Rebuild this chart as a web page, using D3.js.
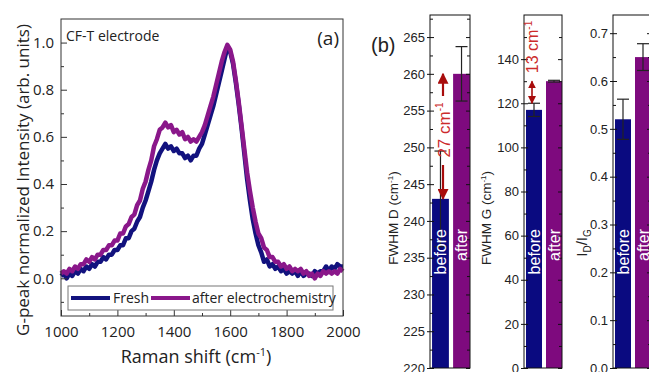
<!DOCTYPE html>
<html>
<head>
  <meta charset="utf-8">
  <title>CF-T electrode Raman</title>
  <script src="https://d3js.org/d3.v7.min.js"></script>
  <style>
    body { margin: 0; background: #fff; }
  </style>
</head>
<body>
  <div id="chart"></div>
  <script>
    // Raman shift grid (cm-1), read every 10 cm-1
    var shift = [1000, 1010, 1020, 1030, 1040, 1050, 1060, 1070, 1080, 1090,
      1100, 1110, 1120, 1130, 1140, 1150, 1160, 1170, 1180, 1190,
      1200, 1210, 1220, 1230, 1240, 1250, 1260, 1270, 1280, 1290,
      1300, 1310, 1320, 1330, 1340, 1350, 1360, 1370, 1380, 1390,
      1400, 1410, 1420, 1430, 1440, 1450, 1460, 1470, 1480, 1490,
      1500, 1510, 1520, 1530, 1540, 1550, 1560, 1570, 1580, 1590,
      1600, 1610, 1620, 1630, 1640, 1650, 1660, 1670, 1680, 1690,
      1700, 1710, 1720, 1730, 1740, 1750, 1760, 1770, 1780, 1790,
      1800, 1810, 1820, 1830, 1840, 1850, 1860, 1870, 1880, 1890,
      1900, 1910, 1920, 1930, 1940, 1950, 1960, 1970, 1980, 1990, 2000];

    // G-peak normalized intensity
    var fresh = [0.01, 0.02, 0.00, 0.02, 0.01, 0.03, 0.02, 0.04, 0.03, 0.05,
      0.04, 0.06, 0.05, 0.07, 0.07, 0.09, 0.08, 0.10, 0.10, 0.12,
      0.12, 0.14, 0.14, 0.17, 0.17, 0.20, 0.21, 0.24, 0.26, 0.30,
      0.33, 0.37, 0.41, 0.46, 0.50, 0.53, 0.55, 0.57, 0.55, 0.56,
      0.54, 0.55, 0.53, 0.53, 0.51, 0.52, 0.50, 0.52, 0.52, 0.55,
      0.57, 0.61, 0.65, 0.69, 0.73, 0.78, 0.83, 0.88, 0.93, 0.98,
      0.96, 0.91, 0.83, 0.74, 0.64, 0.53, 0.42, 0.33, 0.25, 0.19,
      0.14, 0.11, 0.07, 0.08, 0.05, 0.06, 0.04, 0.05, 0.03, 0.04,
      0.02, 0.03, 0.02, 0.03, 0.01, 0.03, 0.01, 0.02, 0.02, 0.01,
      0.03, 0.02, 0.03, 0.03, 0.05, 0.03, 0.05, 0.04, 0.06, 0.05, 0.05];

    var afterEC = [0.02, 0.03, 0.02, 0.04, 0.03, 0.05, 0.04, 0.06, 0.06, 0.08,
      0.07, 0.09, 0.08, 0.10, 0.10, 0.12, 0.12, 0.14, 0.14, 0.16,
      0.16, 0.19, 0.19, 0.22, 0.23, 0.26, 0.27, 0.31, 0.33, 0.38,
      0.41, 0.46, 0.50, 0.56, 0.59, 0.63, 0.64, 0.66, 0.64, 0.65,
      0.62, 0.63, 0.61, 0.62, 0.59, 0.60, 0.58, 0.59, 0.58, 0.60,
      0.62, 0.65, 0.69, 0.73, 0.77, 0.82, 0.87, 0.92, 0.96, 0.99,
      0.97, 0.92, 0.84, 0.75, 0.65, 0.55, 0.45, 0.37, 0.30, 0.24,
      0.19, 0.17, 0.13, 0.12, 0.09, 0.09, 0.07, 0.07, 0.05, 0.06,
      0.04, 0.05, 0.03, 0.04, 0.03, 0.04, 0.02, 0.03, 0.01, 0.02,
      0.00, 0.02, 0.01, 0.03, 0.02, 0.03, 0.02, 0.03, 0.02, 0.04, 0.03];

    var spectrumXTicks = [1000, 1200, 1400, 1600, 1800, 2000];
    var spectrumYTicks = [0.0, 0.2, 0.4, 0.6, 0.8, 1.0];

    // bar panels
    var groups = ["before", "after"];
    var fwhmD = [243, 260];
    var fwhmDErr = [6.5, 3.7];
    var fwhmDTicks = [220, 225, 230, 235, 240, 245, 250, 255, 260, 265];
    var fwhmG = [117, 130];
    var fwhmGErr = [3, 0.4];
    var fwhmGTicks = [0, 20, 40, 60, 80, 100, 120, 140];
    var ratioDG = [0.52, 0.65];
    var ratioDGErr = [0.042, 0.028];
    var ratioDGTicks = [0.0, 0.1, 0.2, 0.3, 0.4, 0.5, 0.6, 0.7];

    var navy = "#0a0a80", purple = "#7e0a7e";
    var lineNavy = "#12127e", linePurple = "#8a178a";
    var sansA = "'Open Sans', 'Noto Sans', sans-serif";
    var sansB = "'Liberation Sans', Arial, sans-serif";

    var svg = d3.select("#chart")
      .append("svg")
      .attr("width", 649)
      .attr("height", 372)
      .style("display", "block");

    // ---------- panel (a) ----------
    var x = d3.scaleLinear().domain([1000, 2000]).range([61, 343]);
    var y = d3.scaleLinear().domain([-0.16, 1.1]).range([316, 19]);

    var pa = svg.append("g").attr("font-family", sansA).attr("fill", "#222");

    var line = d3.line()
      .x((d, i) => x(shift[i]))
      .y(d => y(d));

    pa.append("path")
      .datum(fresh)
      .attr("fill", "none")
      .attr("stroke", lineNavy)
      .attr("stroke-width", 4.5)
      .attr("stroke-linejoin", "round")
      .attr("d", line);

    pa.append("path")
      .datum(afterEC)
      .attr("fill", "none")
      .attr("stroke", linePurple)
      .attr("stroke-width", 4.5)
      .attr("stroke-linejoin", "round")
      .attr("d", line);

    // axes, ticks pointing inward
    pa.append("g")
      .attr("transform", "translate(0,316)")
      .call(d3.axisBottom(x).tickValues(spectrumXTicks).tickSize(-6).tickPadding(10).tickFormat(d3.format("d")));
    pa.append("g")
      .attr("transform", "translate(0,316)")
      .call(d3.axisBottom(x).tickValues([1100, 1300, 1500, 1700, 1900]).tickSize(-3).tickFormat(""));
    pa.append("g")
      .attr("transform", "translate(61,0)")
      .call(d3.axisLeft(y).tickValues(spectrumYTicks).tickSize(-6).tickPadding(7).tickFormat(d3.format(".1f")));
    pa.append("g")
      .attr("transform", "translate(61,0)")
      .call(d3.axisLeft(y).tickValues([-0.1, 0.1, 0.3, 0.5, 0.7, 0.9]).tickSize(-3).tickFormat(""));

    pa.selectAll(".domain").remove();
    pa.selectAll(".tick line").attr("stroke", "#333");
    pa.selectAll(".tick text")
      .attr("font-family", sansA)
      .attr("font-size", 15)
      .attr("fill", "#222");

    pa.append("rect")
      .attr("x", 61).attr("y", 19)
      .attr("width", 282).attr("height", 297)
      .attr("fill", "none")
      .attr("stroke", "#333");

    pa.append("text")
      .attr("x", 66).attr("y", 41)
      .attr("font-size", 14)
      .text("CF-T electrode");
    pa.append("text")
      .attr("x", 339).attr("y", 45)
      .attr("text-anchor", "end")
      .attr("font-size", 19)
      .text("(a)");

    var xt = pa.append("text")
      .attr("x", 196).attr("y", 363)
      .attr("text-anchor", "middle")
      .attr("font-size", 18);
    xt.append("tspan").text("Raman shift (cm");
    xt.append("tspan").attr("dy", -7).attr("font-size", 11).text("-1");
    xt.append("tspan").attr("dy", 7).text(")");

    pa.append("text")
      .attr("transform", "translate(29,180) rotate(-90)")
      .attr("text-anchor", "middle")
      .attr("font-size", 17)
      .text("G-peak normalized Intensity (arb. units)");

    // legend
    var lg = pa.append("g");
    lg.append("rect")
      .attr("x", 68).attr("y", 286)
      .attr("width", 265).attr("height", 24)
      .attr("fill", "#fff")
      .attr("stroke", "#777");
    lg.append("line")
      .attr("x1", 71).attr("x2", 110).attr("y1", 298).attr("y2", 298)
      .attr("stroke", lineNavy).attr("stroke-width", 4);
    lg.append("text").attr("x", 113).attr("y", 303).attr("font-size", 14).text("Fresh");
    lg.append("line")
      .attr("x1", 151).attr("x2", 190).attr("y1", 298).attr("y2", 298)
      .attr("stroke", linePurple).attr("stroke-width", 4);
    lg.append("text").attr("x", 192).attr("y", 303).attr("font-size", 14).text("after electrochemistry");

    // ---------- panel (b) ----------
    var yTop = 15, yBottom = 368;

    function barPanel(x0, x1, domain, values, errs, ticks, minorStep, fmt) {
      var g = svg.append("g").attr("font-family", sansB);
      var xb = d3.scaleBand().domain(groups).range([x0 + 1, x1 + 1]).paddingInner(0.2).paddingOuter(0.05);
      var yb = d3.scaleLinear().domain(domain).range([yBottom, yTop]);

      g.selectAll("rect.bar")
        .data(groups)
        .enter().append("rect")
        .attr("class", "bar")
        .attr("x", d => xb(d))
        .attr("width", xb.bandwidth())
        .attr("y", (d, i) => yb(values[i]))
        .attr("height", (d, i) => yBottom - yb(values[i]))
        .attr("fill", (d, i) => i == 0 ? navy : purple);

      // error bars
      groups.forEach(function(d, i) {
        var cx = xb(d) + xb.bandwidth() / 2;
        var eg = g.append("g").attr("stroke", "#222").attr("stroke-width", 1.2);
        eg.append("line").attr("x1", cx).attr("x2", cx)
          .attr("y1", yb(values[i] - errs[i])).attr("y2", yb(values[i] + errs[i]));
        eg.append("line").attr("x1", cx - 6).attr("x2", cx + 6)
          .attr("y1", yb(values[i] - errs[i])).attr("y2", yb(values[i] - errs[i]));
        eg.append("line").attr("x1", cx - 6).attr("x2", cx + 6)
          .attr("y1", yb(values[i] + errs[i])).attr("y2", yb(values[i] + errs[i]));
      });

      // before / after labels inside bars
      g.selectAll("text.lab")
        .data(groups)
        .enter().append("text")
        .attr("class", "lab")
        .attr("transform", d => "translate(" + (xb(d) + xb.bandwidth() / 2 + 5.5) + ",229) rotate(-90)")
        .attr("text-anchor", "end")
        .attr("font-size", 16)
        .attr("fill", "#fff")
        .text(d => d);

      var minor = d3.range(domain[0], domain[1], minorStep).filter(v => ticks.indexOf(+v.toFixed(3)) < 0);

      g.append("g").attr("transform", "translate(" + x0 + ",0)")
        .call(d3.axisLeft(yb).tickValues(ticks).tickSize(3).tickPadding(2).tickFormat(fmt));
      g.append("g").attr("transform", "translate(" + x0 + ",0)")
        .call(d3.axisLeft(yb).tickValues(ticks).tickSize(-4).tickFormat(""));
      g.append("g").attr("transform", "translate(" + x0 + ",0)")
        .call(d3.axisLeft(yb).tickValues(minor).tickSize(-3).tickFormat(""));
      g.append("g").attr("transform", "translate(" + x1 + ",0)")
        .call(d3.axisRight(yb).tickValues(ticks).tickSize(-4).tickFormat(""));
      g.append("g").attr("transform", "translate(" + x1 + ",0)")
        .call(d3.axisRight(yb).tickValues(minor).tickSize(-3).tickFormat(""));

      g.selectAll(".domain").remove();
      g.selectAll(".tick line").attr("stroke", "#111");
      g.selectAll(".tick text")
        .attr("font-family", sansB)
        .attr("font-size", 13)
        .attr("fill", "#222");

      g.append("rect")
        .attr("x", x0).attr("y", yTop)
        .attr("width", x1 - x0).attr("height", yBottom - yTop)
        .attr("fill", "none")
        .attr("stroke", "#111");

      return {g: g, x: xb, y: yb};
    }

    var pD = barPanel(430, 470, [220, 268], fwhmD, fwhmDErr, fwhmDTicks, 2.5, d3.format("d"));
    var pG = barPanel(524, 562, [0, 160], fwhmG, fwhmGErr, fwhmGTicks, 10, d3.format("d"));
    var pR = barPanel(613, 651, [0, 0.738], ratioDG, ratioDGErr, ratioDGTicks, 0.05, d3.format(".1f"));

    svg.append("text")
      .attr("x", 371).attr("y", 52)
      .attr("font-family", sansB)
      .attr("font-size", 20)
      .attr("fill", "#222")
      .text("(b)");

    function axisTitle(xp, yp, main) {
      var t = svg.append("text")
        .attr("transform", "translate(" + xp + "," + yp + ") rotate(-90)")
        .attr("text-anchor", "middle")
        .attr("font-family", sansB)
        .attr("font-size", 13.5)
        .attr("fill", "#222");
      t.append("tspan").text(main + " (cm");
      t.append("tspan").attr("dy", -5).attr("font-size", 8).text("-1");
      t.append("tspan").attr("dy", 5).text(")");
    }
    axisTitle(398, 218, "FWHM D");
    axisTitle(491, 218, "FWHM G");

    var rt = svg.append("text")
      .attr("transform", "translate(587,243) rotate(-90)")
      .attr("text-anchor", "middle")
      .attr("font-family", sansB)
      .attr("font-size", 15)
      .attr("fill", "#222");
    rt.append("tspan").text("I");
    rt.append("tspan").attr("dy", 4).attr("font-size", 10).text("D");
    rt.append("tspan").attr("dy", -4).text("/I");
    rt.append("tspan").attr("dy", 4).attr("font-size", 10).text("G");

    // red annotations
    var arrowRed = "#a80c0c", textRed = "#cc2b2b";
    svg.append("defs").append("marker")
      .attr("id", "head")
      .attr("viewBox", "0 0 10 10")
      .attr("refX", 9).attr("refY", 5)
      .attr("markerWidth", 5).attr("markerHeight", 5)
      .attr("orient", "auto-start-reverse")
      .append("path")
      .attr("d", "M0,0 L10,5 L0,10 z")
      .attr("fill", arrowRed);

    var ax = 443;
    svg.append("line")
      .attr("x1", ax).attr("x2", ax)
      .attr("y1", 96).attr("y2", pD.y(fwhmD[1]))
      .attr("stroke", arrowRed).attr("stroke-width", 2.2)
      .attr("marker-end", "url(#head)");
    svg.append("line")
      .attr("x1", ax).attr("x2", ax)
      .attr("y1", 165).attr("y2", pD.y(fwhmD[0]))
      .attr("stroke", arrowRed).attr("stroke-width", 2.2)
      .attr("marker-end", "url(#head)");

    var t27 = svg.append("text")
      .attr("transform", "translate(450,130) rotate(-90)")
      .attr("text-anchor", "middle")
      .attr("font-family", sansB)
      .attr("font-size", 17)
      .attr("fill", textRed);
    t27.append("tspan").text("27 cm");
    t27.append("tspan").attr("dy", -7).attr("font-size", 10).text("-1");

    var gx = 532;
    svg.append("line")
      .attr("x1", gx).attr("x2", gx)
      .attr("y1", pG.y(fwhmG[0] + fwhmGErr[0])).attr("y2", pG.y(fwhmG[1]))
      .attr("stroke", arrowRed).attr("stroke-width", 1.6)
      .attr("marker-start", "url(#head)")
      .attr("marker-end", "url(#head)");

    var t13 = svg.append("text")
      .attr("transform", "translate(538,47) rotate(-90)")
      .attr("text-anchor", "middle")
      .attr("font-family", sansB)
      .attr("font-size", 16)
      .attr("fill", textRed);
    t13.append("tspan").text("13 cm");
    t13.append("tspan").attr("dy", -6).attr("font-size", 10).text("-1");
  </script>
</body>
</html>
